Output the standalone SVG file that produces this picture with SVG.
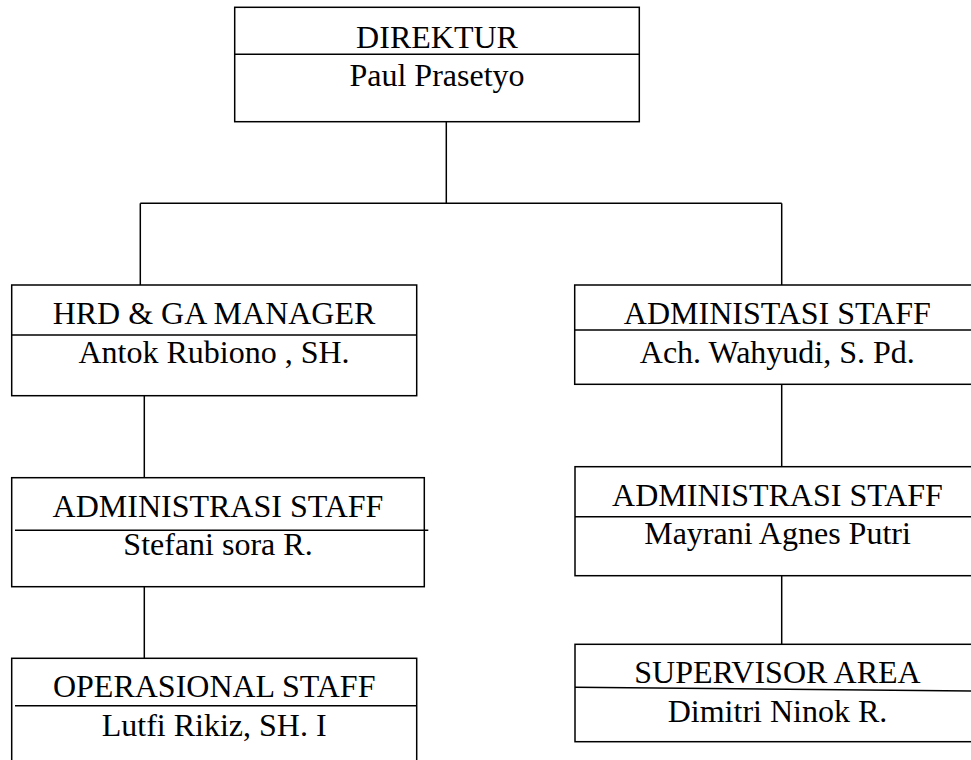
<svg xmlns="http://www.w3.org/2000/svg" width="971" height="760" viewBox="0 0 971 760">
<style>
.box{fill:#fff;stroke:#000;stroke-width:1.5}
.div{stroke:#000;stroke-width:1.5;fill:none}
.con{stroke:#000;stroke-width:1.5;fill:none}
text{font-family:"Liberation Serif","Times New Roman",serif;font-size:32px;fill:#000;text-anchor:middle}
</style>
<rect width="971" height="760" fill="#fff"/>
<g id="connectors">
<line class="con" x1="446.3" y1="121.7" x2="446.3" y2="203.3"/>
<line class="con" x1="140.3" y1="203.3" x2="781.7" y2="203.3"/>
<line class="con" x1="140.3" y1="203.3" x2="140.3" y2="285"/>
<line class="con" x1="781.7" y1="203.3" x2="781.7" y2="285"/>
<line class="con" x1="144.3" y1="395.7" x2="144.3" y2="477.7"/>
<line class="con" x1="144.3" y1="586.7" x2="144.3" y2="658.3"/>
<line class="con" x1="781.7" y1="384.3" x2="781.7" y2="466.7"/>
<line class="con" x1="781.7" y1="575.7" x2="781.7" y2="644.3"/>
</g>
<g id="direktur">
<rect class="box" x="234.7" y="7.3" width="404.6" height="114.4"/>
<line class="div" x1="234.7" y1="54.3" x2="639.3" y2="54.3"/>
<text x="437" y="47.7">DIREKTUR</text>
<text x="437" y="86">Paul Prasetyo</text>
</g>
<g id="hrd">
<rect class="box" x="11.7" y="285" width="405" height="110.7"/>
<line class="div" x1="11.7" y1="335" x2="416.7" y2="335"/>
<text x="214" y="324.3">HRD &amp; GA MANAGER</text>
<text x="214" y="362.7">Antok Rubiono , SH.</text>
</g>
<g id="admin-right">
<rect class="box" x="574.7" y="285" width="405.3" height="99.3"/>
<line class="div" x1="574.7" y1="330" x2="980" y2="330"/>
<text x="777.3" y="324.3">ADMINISTASI STAFF</text>
<text x="777.3" y="362.7">Ach. Wahyudi, S. Pd.</text>
</g>
<g id="admin-left">
<rect class="box" x="11.7" y="477.7" width="412.6" height="109"/>
<line class="div" x1="15" y1="530.3" x2="428.3" y2="530.3"/>
<text x="218" y="516.7">ADMINISTRASI STAFF</text>
<text x="218" y="555">Stefani sora R.</text>
</g>
<g id="admin-right-2">
<rect class="box" x="575" y="466.7" width="405" height="109"/>
<line class="div" x1="575" y1="516.7" x2="980" y2="516.7"/>
<text x="777.5" y="505.7">ADMINISTRASI STAFF</text>
<text x="777.5" y="544">Mayrani Agnes Putri</text>
</g>
<g id="operasional">
<rect class="box" x="11.7" y="658.3" width="405" height="115"/>
<line class="div" x1="15" y1="705.7" x2="416.7" y2="705.7"/>
<text x="214.2" y="697.3">OPERASIONAL STAFF</text>
<text x="214.2" y="735.7">Lutfi Rikiz, SH. I</text>
</g>
<g id="supervisor">
<rect class="box" x="575" y="644.3" width="405" height="97.4"/>
<line class="div" x1="575" y1="687.3" x2="980" y2="691"/>
<text x="777.5" y="683.3">SUPERVISOR AREA</text>
<text x="777.5" y="721.7">Dimitri Ninok R.</text>
</g>
</svg>
